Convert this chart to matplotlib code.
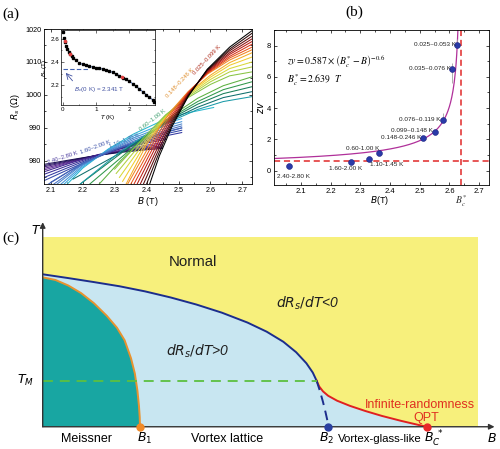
import numpy as np
import matplotlib
matplotlib.use('Agg')
import matplotlib.pyplot as plt
from matplotlib.ticker import MultipleLocator

plt.rcParams['font.family'] = ['Liberation Sans', 'DejaVu Sans']
plt.rcParams['mathtext.fontset'] = 'dejavusans'

# ---------------- Panel (a) data: R_s(B) isotherms ----------------
# group 0.025~0.099 K
gA_start = [2.408, 2.398, 2.388, 2.378, 2.368, 2.358, 2.348, 2.338]
gA_grid = [2.44, 2.48, 2.53, 2.59, 2.66, 2.73]
gA_R = [
    [972.5, 981.5, 990.5, 999.5, 1007.8, 1014.5, 1019.5],
    [972.5, 982.7, 991.2, 999.7, 1007.6, 1013.9, 1018.7],
    [972.5, 983.9, 991.9, 999.9, 1007.4, 1013.4, 1017.8],
    [972.5, 985.1, 992.6, 1000.1, 1007.2, 1012.8, 1017.0],
    [972.5, 986.4, 993.4, 1000.4, 1006.9, 1012.3, 1016.2],
    [972.5, 987.6, 994.1, 1000.6, 1006.7, 1011.7, 1015.4],
    [972.5, 988.8, 994.8, 1000.8, 1006.5, 1011.2, 1014.5],
    [972.5, 990.0, 995.5, 1001.0, 1006.3, 1010.6, 1013.7],
]
gA_col = ['#000000', '#2a0808', '#5a0c0c', '#8c1010', '#b81c14', '#d8341a', '#e85a1e', '#f08424']

# group 0.148~0.246 K
gB_start = [2.335, 2.325, 2.315, 2.305, 2.300]
gB_grid = [2.40, 2.46, 2.53, 2.60, 2.66, 2.73]
gB_R = [
    [972.8, 985.0, 993.0, 1000.5, 1006.0, 1009.8, 1012.8],
    [973.8, 985.8, 993.3, 1000.3, 1005.4, 1009.0, 1011.5],
    [975.0, 986.6, 993.6, 1000.0, 1004.7, 1008.0, 1010.0],
    [976.2, 987.3, 993.8, 999.6, 1004.0, 1007.0, 1008.5],
    [977.5, 988.0, 994.0, 999.2, 1003.2, 1005.8, 1007.0],
]
gB_col = ['#f4ac28', '#f0cc30', '#d8d838', '#b0d040', '#88c444']

# group 0.60~1.00 K
gC_start = [2.25, 2.22, 2.19, 2.17, 2.19]
gC_grid = [2.32, 2.40, 2.48, 2.56, 2.64, 2.73]
gC_R = [
    [972.8, 980.2, 987.5, 993.8, 999.0, 1002.8, 1005.5],
    [972.8, 981.0, 987.6, 993.4, 998.0, 1001.6, 1004.0],
    [972.8, 982.3, 987.7, 993.0, 997.2, 1000.4, 1002.5],
    [974.5, 982.5, 987.8, 992.6, 996.3, 999.2, 1001.0],
    [972.8, 983.0, 988.0, 992.2, 995.6, 998.0, 999.5],
]
gC_col = ['#5cb040', '#30984a', '#187e58', '#0e6e6c', '#1a9aa8']

# group 1.10~1.45 K
gD_B = [
    [2.15, 2.20, 2.28, 2.36, 2.44, 2.52, 2.61],
    [2.14, 2.20, 2.28, 2.36, 2.44, 2.51],
    [2.13, 2.20, 2.28, 2.36, 2.44, 2.51],
    [2.12, 2.20, 2.28, 2.36, 2.44, 2.51],
    [2.11, 2.20, 2.28, 2.36, 2.44, 2.51],
    [2.10, 2.20, 2.28, 2.36, 2.44, 2.51],
]
gD_R = [
    [972.8, 977.8, 983.6, 988.2, 991.8, 994.4, 996.2],
    [972.8, 978.2, 983.4, 987.6, 990.8, 992.8],
    [972.8, 978.6, 983.2, 987.0, 990.0, 991.9],
    [973.0, 979.0, 983.0, 986.5, 989.3, 991.2],
    [973.0, 979.2, 982.8, 986.0, 988.7, 990.6],
    [973.5, 979.4, 982.6, 985.5, 988.1, 990.0],
]
gD_col = ['#28b8d0', '#38a8e0', '#4494d8', '#4a84cc', '#4874c4', '#4264b8']

# group 1.60~2.00 K
gE_B = [
    [2.09, 2.16, 2.24, 2.32, 2.40, 2.46, 2.51],
    [2.07, 2.16, 2.24, 2.32, 2.40, 2.46, 2.51],
    [2.07, 2.16, 2.24, 2.32, 2.40, 2.46, 2.51],
    [2.07, 2.16, 2.24, 2.32, 2.40, 2.46],
    [2.07, 2.16, 2.24, 2.32, 2.40, 2.46],
]
gE_R = [
    [972.8, 977.0, 980.8, 984.2, 987.0, 988.8, 990.0],
    [973.6, 977.6, 981.0, 984.0, 986.6, 988.2, 989.3],
    [974.6, 978.2, 981.3, 983.9, 986.2, 987.6, 988.6],
    [975.6, 978.8, 981.5, 983.8, 985.8, 987.0],
    [976.4, 979.3, 981.7, 983.7, 985.4, 986.5],
]
gE_col = ['#3a58b0', '#3448a8', '#3238a0', '#382c96', '#40248c']

# group 2.40~2.80 K
gF_grid = [2.07, 2.16, 2.24, 2.32, 2.40, 2.45]
gF_R = [
    [977.0, 979.5, 981.6, 983.3, 984.8, 985.6],
    [977.5, 979.7, 981.6, 983.1, 984.4, 985.1],
    [978.0, 979.9, 981.6, 982.9, 984.0, 984.6],
    [978.4, 980.1, 981.6, 982.8, 983.7, 984.2],
    [978.8, 980.3, 981.6, 982.6, 983.4, 983.8],
]
gF_col = ['#6a3aa0', '#5a2a90', '#44207c', '#2e1868', '#1c1052']

# inset: Bc(T)
ins_T = [0.02, 0.05, 0.08, 0.11, 0.14, 0.18, 0.22, 0.27, 0.32, 0.40, 0.50, 0.60,
         0.70, 0.80, 0.90, 1.00, 1.10, 1.20, 1.30, 1.40, 1.50, 1.60, 1.70, 1.80,
         1.90, 2.00, 2.10, 2.20, 2.30, 2.40, 2.50, 2.60, 2.70, 2.75]
ins_Bc = [2.655, 2.61, 2.57, 2.54, 2.515, 2.49, 2.47, 2.45, 2.435, 2.415, 2.395, 2.38,
          2.372, 2.365, 2.36, 2.352, 2.345, 2.338, 2.332, 2.322, 2.31, 2.297, 2.282, 2.265,
          2.255, 2.24, 2.215, 2.19, 2.165, 2.14, 2.12, 2.095, 2.07, 2.055]
ins_red_T = [0.07, 0.22, 1.78]
ins_red_Bc = [2.58, 2.465, 2.27]
fit_T = [0.55, 0.8, 1.0, 1.2, 1.4, 1.6, 1.8, 2.0, 2.2, 2.4, 2.6, 2.8]
fit_Bc = [2.385, 2.363, 2.351, 2.339, 2.323, 2.298, 2.268, 2.235, 2.192, 2.145, 2.098, 2.05]
Bc0 = 2.341

# ---------------- Panel (b) data ----------------
b_B = [2.062, 2.27, 2.329, 2.364, 2.512, 2.55, 2.577, 2.61, 2.627]
b_zv = [0.30, 0.58, 0.75, 1.10, 2.11, 2.48, 3.27, 6.52, 8.04]
b_err_lo = [0.0, 0.0, 0.0, 0.0, 0.0, 0.0, 0.0, 0.9, 0.0]
b_err_hi = [0.0, 0.0, 0.0, 0.0, 0.0, 0.0, 0.4, 0.36, 0.4]
b_labels = ['2.40-2.80 K', '1.60-2.00 K', '1.10-1.45 K', '0.60-1.00 K', '0.148-0.246 K',
            '0.099~0.148 K', '0.076~0.119 K', '0.035~0.076 K', '0.025~0.053 K']
fit_A, fit_Bc_star, fit_exp = 0.587, 2.639, -0.6
zv_floor = 0.64

# ---------------- Panel (c) schematic ----------------
upper_B = [0, 0.2, 0.4, 0.6, 0.8, 1.0, 1.2, 1.4, 1.6, 1.75, 1.88, 1.98, 2.06, 2.11, 2.14]
upper_T = [0.802, 0.782, 0.761, 0.739, 0.712, 0.680, 0.643, 0.600, 0.548, 0.500, 0.447,
           0.392, 0.334, 0.285, 0.242]
glass_B = [2.14, 2.16, 2.19, 2.23, 2.30, 2.40, 2.52, 2.65, 2.80, 2.92, 3.0]
glass_T = [0.242, 0.212, 0.186, 0.163, 0.137, 0.110, 0.083, 0.057, 0.031, 0.012, 0.0]
meis_B = [0, 0.1, 0.2, 0.3, 0.4, 0.5, 0.58, 0.64, 0.69, 0.72, 0.74, 0.752, 0.758, 0.76]
meis_T = [0.786, 0.772, 0.743, 0.703, 0.650, 0.584, 0.521, 0.455, 0.360, 0.280, 0.190,
          0.110, 0.050, 0.0]
b2_B = [2.14, 2.165, 2.19, 2.21, 2.225, 2.23]
b2_T = [0.242, 0.19, 0.13, 0.075, 0.03, 0.0]
T_M = 0.242
B_1, B_2, B_cs = 0.76, 2.23, 3.0
B_right, T_top = 3.40, 1.0

fig = plt.figure(figsize=(5.0, 4.49), dpi=100)

# ======== (a) ========
axa = fig.add_axes([44/500, 1-184/449, 208/500, 155/449])
lw = 0.75
for i in range(len(gF_R)):
    axa.plot(gF_grid, gF_R[i], color=gF_col[i], lw=lw)
for i in range(len(gE_R)):
    axa.plot(gE_B[i], gE_R[i], color=gE_col[i], lw=lw)
for i in range(len(gD_R)):
    axa.plot(gD_B[i], gD_R[i], color=gD_col[i], lw=lw)
for i in range(len(gC_R)):
    axa.plot([gC_start[i]] + gC_grid, gC_R[i], color=gC_col[i], lw=lw)
for i in range(len(gB_R)):
    axa.plot([gB_start[i]] + gB_grid, gB_R[i], color=gB_col[i], lw=lw)
for i in range(len(gA_R) - 1, -1, -1):
    axa.plot([gA_start[i]] + gA_grid, gA_R[i], color=gA_col[i], lw=lw)
axa.set_xlim(2.079, 2.73)
axa.set_ylim(973, 1020)
axa.xaxis.set_major_locator(MultipleLocator(0.1))
axa.xaxis.set_minor_locator(MultipleLocator(0.05))
axa.yaxis.set_major_locator(MultipleLocator(10))
axa.yaxis.set_minor_locator(MultipleLocator(5))
axa.tick_params(which='both', direction='in', top=True, right=True, labelsize=5.2, pad=2,
                width=0.5)
axa.tick_params(which='major', length=2.5)
axa.tick_params(which='minor', length=1.5)
for s in axa.spines.values():
    s.set_linewidth(0.6)
axa.set_xlabel(r'$B$ (T)', fontsize=6.5, labelpad=1)
axa.set_ylabel(r'$R_s$ ($\Omega$)', fontsize=6.5, labelpad=2)

lab_a = [('2.40~2.80 K', 2.136, 981.0, 18, '#5040a0'),
         ('1.60~2.00 K', 2.24, 984.3, 20, '#3a50a8'),
         ('1.10~1.45 K', 2.33, 986.2, 22, '#4070b0'),
         ('0.60~1.00 K', 2.418, 992.4, 38, '#40a070'),
         ('0.148~0.246 K', 2.506, 1003.5, 47, '#e09030'),
         ('0.025~0.099 K', 2.588, 1010.6, 47, '#b03020')]
for t, x, y, r, c in lab_a:
    axa.text(x, y, t, fontsize=4.2, color=c, rotation=r, ha='center', va='center',
             rotation_mode='anchor')

# inset
axi = fig.add_axes([61/500, 1-105/449, 94/500, 75/449])
axi.plot(fit_T, fit_Bc, color='#4060b0', lw=0.7)
axi.plot([0, 0.75], [Bc0, Bc0], color='#4060b0', lw=0.8, ls=(0, (4, 2)))
axi.plot(ins_T, ins_Bc, 's', color='black', ms=1.6)
axi.plot(ins_red_T, ins_red_Bc, 'o', color='#e04040', ms=1.6)
axi.annotate('', xy=(0.04, 2.325), xytext=(0.35, 2.22),
             arrowprops=dict(arrowstyle='->', color='#4050a0', lw=0.6))
axi.text(0.33, 2.165, r'$B_c$(0 K) = 2.341 T', fontsize=4.5, color='#4050a0', va='center')
axi.set_xlim(-0.05, 2.77)
axi.set_ylim(2.03, 2.676)
axi.xaxis.set_major_locator(MultipleLocator(1))
axi.xaxis.set_minor_locator(MultipleLocator(0.5))
axi.yaxis.set_major_locator(MultipleLocator(0.2))
axi.yaxis.set_minor_locator(MultipleLocator(0.1))
axi.tick_params(which='both', direction='in', top=True, right=True, labelsize=4.5, pad=1.5,
                width=0.4)
axi.tick_params(which='major', length=2)
axi.tick_params(which='minor', length=1)
for s in axi.spines.values():
    s.set_linewidth(0.5)
axi.set_xlabel(r'$T$ (K)', fontsize=4.5, labelpad=0.5)
axi.set_ylabel(r'$B_c$ (T)', fontsize=4.5, labelpad=0.5)

# ======== (b) ========
axb = fig.add_axes([274/500, 1-185/449, 215/500, 155/449])
bb = np.linspace(2.01, 2.6285, 300)
axb.plot(bb, fit_A * (fit_Bc_star - bb) ** fit_exp, color='#b0309a', lw=0.9)
axb.axhline(zv_floor, color='#e02828', lw=1.1, ls=(0, (4, 2.5)))
axb.axvline(fit_Bc_star, color='#e02828', lw=1.1, ls=(0, (4, 2.5)))
axb.errorbar(b_B, b_zv, yerr=[b_err_lo, b_err_hi], fmt='none', ecolor='#a0a0a0',
             elinewidth=0.6, capsize=0)
axb.plot(b_B, b_zv, 'o', color='#2a3aa8', ms=4.2, mec='#1a2080', mew=0.4)
lab_off = [(0.013, -0.65, 'center'), (-0.02, -0.45, 'center'), (0.06, -0.36, 'center'),
           (-0.055, 0.32, 'center'), (-0.006, 0, 'right'), (-0.006, 0.1, 'right'),
           (-0.006, 0, 'right'), (-0.006, 0, 'right'), (-0.006, 0, 'right')]
for i in range(len(b_B)):
    dx, dy, ha = lab_off[i]
    axb.text(b_B[i] + dx, b_zv[i] + dy, b_labels[i], fontsize=4.6, ha=ha, va='center',
             color='#222222')
axb.text(2.053, 6.95, r'$zv = 0.587\times\left(B_c^{*}-B\right)^{-0.6}$', fontsize=7,
         math_fontfamily='stix', va='center', ha='left')
axb.text(2.053, 5.8, r'$B_c^{*} = 2.639\ \ T$', fontsize=7, math_fontfamily='stix',
         va='center', ha='left')
axb.set_xlim(2.01, 2.733)
axb.set_ylim(-0.92, 9.0)
axb.xaxis.set_major_locator(MultipleLocator(0.1))
axb.xaxis.set_minor_locator(MultipleLocator(0.05))
axb.yaxis.set_major_locator(MultipleLocator(2))
axb.yaxis.set_minor_locator(MultipleLocator(1))
axb.tick_params(which='both', direction='in', top=True, right=True, labelsize=5.5, pad=2,
                width=0.5)
axb.tick_params(which='major', length=2.5)
axb.tick_params(which='minor', length=1.5)
for s in axb.spines.values():
    s.set_linewidth(0.6)
axb.set_ylabel(r'$zv$', fontsize=7, labelpad=1)
axb.text(2.366, -0.055, r'$B$(T)', fontsize=6.5, ha='center', va='top',
         transform=axb.get_xaxis_transform())
axb.text(fit_Bc_star, -0.05, r'$B_c^{*}$', fontsize=7, ha='center', va='top',
         transform=axb.get_xaxis_transform(), math_fontfamily='stix', color='#333333')

# ======== (c) ========
axc = fig.add_axes([42.7/500, 0, 454.3/500, 227/449])
axc.set_xlim(0, 454.3/128)
axc.set_ylim(-0.117, 1.077)
axc.axis('off')
axc.fill_between([0, B_right], 0, T_top, color='#f7f07c', lw=0)
axc.fill(upper_B + glass_B + [0], upper_T + glass_T + [0], color='#c8e6f1', lw=0)
axc.fill(meis_B + [0], meis_T + [0], color='#18a6a2', lw=0)
axc.plot(meis_B, meis_T, color='#e8922e', lw=1.4)
axc.plot(upper_B, upper_T, color='#1c2d8c', lw=1.4)
axc.plot(glass_B, glass_T, color='#e02020', lw=1.4)
axc.plot(b2_B, b2_T, color='#1c2d8c', lw=1.4, ls=(0, (5, 3)))
axc.plot([0, upper_B[-1]], [T_M, T_M], color='#5cc040', lw=1.3, ls=(0, (5.5, 3.8)))
axc.annotate('', xy=(3.53, 0), xytext=(0, 0),
             arrowprops=dict(arrowstyle='-|>', color='#333333', lw=1.0, mutation_scale=8,
                             shrinkA=0, shrinkB=0))
axc.annotate('', xy=(0, 1.076), xytext=(0, 0),
             arrowprops=dict(arrowstyle='-|>', color='#333333', lw=1.0, mutation_scale=8,
                             shrinkA=0, shrinkB=0))
axc.plot([B_1], [0], 'o', color='#f08a28', ms=5, clip_on=False, zorder=5)
axc.plot([B_2], [0], 'o', color='#2a40a0', ms=5, clip_on=False, zorder=5)
axc.plot([B_cs], [0], 'o', color='#e82828', ms=5, clip_on=False, zorder=5)

fs = 9
axc.text(1.177, 0.868, 'Normal', fontsize=10.8, ha='center', va='center', color='#202020')
axc.text(2.07, 0.65, r'$dR_s/dT$<0', fontsize=10, ha='center', va='center',
         color='#202020', style='italic')
axc.text(1.21, 0.395, r'$dR_s/dT$>0', fontsize=10, ha='center', va='center',
         color='#202020', style='italic')
axc.text(2.95, 0.112, 'Infinite-randomness', fontsize=9, ha='center', va='center',
         color='#e03020')
axc.text(3.0, 0.045, 'QPT', fontsize=9, ha='center', va='center', color='#e03020')
ylab = -0.062
axc.text(0.344, ylab, 'Meissner', fontsize=fs, ha='center', va='center')
axc.text(0.80, ylab, r'$B_1$', fontsize=fs, ha='center', va='center')
axc.text(1.44, ylab, 'Vortex lattice', fontsize=fs, ha='center', va='center')
axc.text(2.215, ylab, r'$B_2$', fontsize=fs, ha='center', va='center')
axc.text(2.31, ylab, 'Vortex-glass-like', fontsize=8.2, ha='left', va='center')
axc.text(3.06, ylab, r'$B_C^{\ *}$', fontsize=fs, ha='center', va='center')
axc.text(3.51, ylab, r'$B$', fontsize=fs, ha='center', va='center')
axc.text(-0.138, T_M, r'$T_M$', fontsize=fs, ha='center', va='center', clip_on=False)
axc.text(-0.05, 1.03, r'$T$', fontsize=fs, ha='center', va='center', clip_on=False)

# panel labels
fig.text(2/500, 1-14/449, '(a)', fontsize=11, family=['Liberation Serif'], va='center')
fig.text(354/500, 1-12/449, '(b)', fontsize=11, family=['Liberation Serif'], va='center',
         ha='center')
fig.text(2/500, 1-238/449, '(c)', fontsize=11, family=['Liberation Serif'], va='center')

fig.savefig('out.png', dpi=100)
